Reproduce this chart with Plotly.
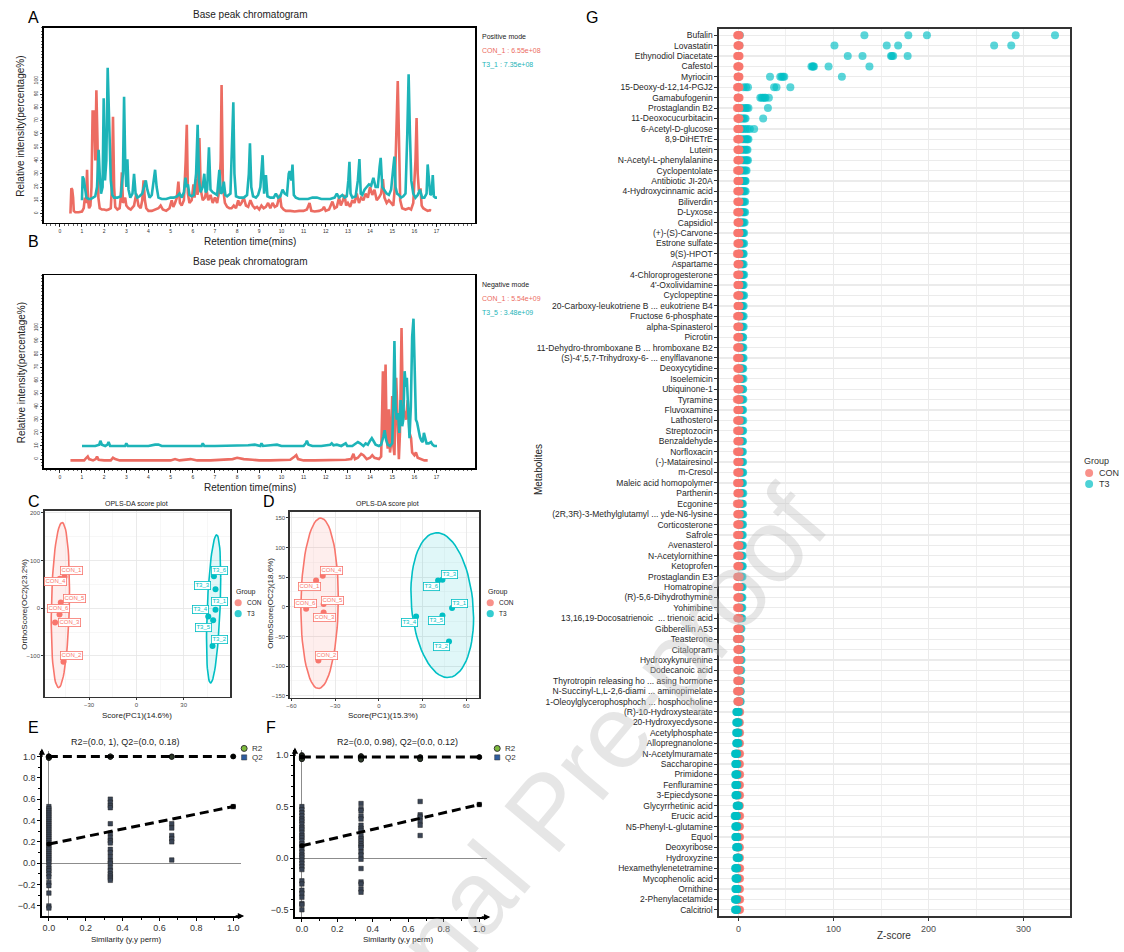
import numpy as np
import plotly.graph_objects as go

# ---------------------------------------------------------------- data
# A: base peak chromatogram, positive mode (time [min], relative intensity [%])
pos_con = [(0.48, 0), (0.52, 19), (0.56, 18), (0.6, 12), (0.63, 2), (0.7, 1), (0.85, 1), (1.0, 1.5), (1.08, 4),
           (1.13, 12), (1.18, 8), (1.23, 33), (1.27, 10), (1.32, 4), (1.38, 6), (1.43, 20), (1.48, 77), (1.55, 77),
           (1.6, 40), (1.65, 93), (1.7, 55), (1.74, 12), (1.8, 4), (1.9, 3), (2.0, 3), (2.1, 2.5), (2.2, 3), (2.3, 4),
           (2.35, 20), (2.4, 73), (2.45, 20), (2.5, 5), (2.6, 3), (2.7, 4), (2.75, 12), (2.8, 31), (2.85, 8),
           (2.95, 12), (3.0, 6), (3.1, 4), (3.2, 3), (3.35, 6), (3.45, 15), (3.55, 6), (3.65, 4), (3.72, 10),
           (3.78, 25), (3.84, 10), (3.9, 4), (4.0, 2), (4.15, 2), (4.3, 3), (4.45, 4), (4.55, 6), (4.65, 3), (4.8, 2),
           (4.95, 4), (5.05, 10), (5.12, 5), (5.2, 8), (5.28, 12), (5.35, 24), (5.42, 8), (5.5, 6), (5.6, 10),
           (5.68, 40), (5.73, 67), (5.78, 15), (5.85, 8), (5.95, 10), (6.03, 22), (6.08, 12), (6.15, 26), (6.22, 14),
           (6.3, 57), (6.36, 18), (6.45, 10), (6.55, 12), (6.62, 18), (6.7, 10), (6.8, 14), (6.9, 8), (7.0, 12),
           (7.1, 8), (7.2, 18), (7.26, 40), (7.3, 97), (7.36, 20), (7.45, 8), (7.55, 5), (7.65, 4), (7.75, 4),
           (7.85, 6), (7.95, 4), (8.05, 10), (8.12, 6), (8.2, 8), (8.3, 12), (8.4, 6), (8.5, 5), (8.6, 10), (8.7, 6),
           (8.8, 4), (8.9, 5), (9.0, 3), (9.1, 6), (9.2, 4), (9.3, 5), (9.4, 8), (9.5, 4), (9.6, 8), (9.7, 5),
           (9.8, 6), (9.93, 14), (10.0, 5), (10.1, 3), (10.2, 2), (10.4, 2), (10.6, 1.5), (10.8, 2), (11.0, 2),
           (11.15, 3), (11.27, 8), (11.35, 2), (11.5, 1.5), (11.7, 2), (11.85, 3), (11.92, 5), (12.0, 2), (12.15, 3),
           (12.3, 9), (12.4, 4), (12.5, 5), (12.6, 12), (12.68, 6), (12.78, 10), (12.85, 14), (12.92, 6), (13.0, 8),
           (13.1, 5), (13.2, 10), (13.3, 8), (13.4, 15), (13.5, 8), (13.6, 12), (13.7, 10), (13.8, 15), (13.9, 12),
           (14.0, 20), (14.1, 14), (14.2, 18), (14.3, 10), (14.4, 12), (14.5, 15), (14.58, 26), (14.65, 12),
           (14.75, 8), (14.85, 10), (14.95, 8), (15.05, 6), (15.12, 20), (15.2, 70), (15.25, 100), (15.3, 60),
           (15.36, 10), (15.45, 4), (15.6, 3), (15.75, 4), (15.85, 3), (15.95, 8), (16.05, 40), (16.1, 72),
           (16.15, 30), (16.2, 18), (16.28, 18), (16.33, 6), (16.4, 4), (16.5, 3), (16.6, 2), (16.7, 2.5), (16.75, 2)]
pos_t3 = [(1.0, 10), (1.03, 28), (1.08, 26), (1.13, 18), (1.2, 12), (1.3, 11), (1.4, 11), (1.5, 12), (1.6, 13),
          (1.68, 20), (1.75, 48), (1.8, 30), (1.86, 15), (1.93, 20), (1.98, 87), (2.04, 25), (2.1, 40), (2.16, 110),
          (2.22, 75), (2.25, 60), (2.3, 25), (2.37, 14), (2.45, 12), (2.6, 12), (2.75, 13), (2.85, 30), (2.9, 88),
          (2.95, 40), (3.0, 20), (3.05, 41), (3.1, 18), (3.18, 12), (3.28, 15), (3.35, 30), (3.42, 15), (3.5, 12),
          (3.6, 13), (3.72, 15), (3.8, 20), (3.88, 25), (3.95, 18), (4.05, 12), (4.15, 14), (4.25, 25), (4.3, 33),
          (4.37, 20), (4.45, 12), (4.6, 11), (4.8, 11), (5.0, 12), (5.15, 12), (5.3, 13), (5.4, 15), (5.5, 12),
          (5.6, 16), (5.67, 27), (5.72, 20), (5.78, 22), (5.85, 14), (5.95, 13), (6.05, 14), (6.15, 30), (6.22, 67),
          (6.28, 25), (6.35, 16), (6.45, 20), (6.52, 30), (6.58, 16), (6.65, 18), (6.73, 50), (6.8, 18), (6.9, 16),
          (7.0, 15), (7.1, 14), (7.2, 33), (7.26, 15), (7.33, 16), (7.4, 24), (7.47, 14), (7.55, 13), (7.7, 15),
          (7.78, 50), (7.83, 84), (7.88, 30), (7.95, 13), (8.1, 12), (8.3, 12), (8.45, 14), (8.53, 30), (8.58, 53),
          (8.64, 20), (8.72, 13), (8.85, 12), (8.95, 14), (9.05, 20), (9.15, 44), (9.22, 15), (9.3, 29), (9.37, 13),
          (9.5, 12), (9.65, 12), (9.75, 15), (9.85, 12), (9.95, 13), (10.05, 18), (10.15, 15), (10.25, 14),
          (10.33, 30), (10.37, 32), (10.45, 25), (10.5, 37), (10.56, 14), (10.65, 12), (10.8, 11), (11.0, 11),
          (11.2, 11), (11.4, 12), (11.6, 12), (11.8, 11), (12.0, 11), (12.2, 11), (12.4, 12), (12.5, 15), (12.6, 12),
          (12.75, 14), (12.85, 12), (12.95, 13), (13.02, 25), (13.07, 39), (13.12, 15), (13.2, 12), (13.35, 13),
          (13.45, 25), (13.52, 41), (13.58, 15), (13.65, 14), (13.75, 18), (13.85, 20), (13.95, 22), (14.05, 21),
          (14.15, 27), (14.25, 20), (14.35, 20), (14.43, 35), (14.48, 42), (14.55, 20), (14.65, 17), (14.75, 15),
          (14.85, 14), (14.95, 18), (15.05, 35), (15.1, 43), (15.15, 20), (15.22, 15), (15.3, 14), (15.4, 12),
          (15.5, 13), (15.6, 15), (15.68, 60), (15.74, 105), (15.8, 60), (15.86, 25), (15.95, 15), (16.05, 12),
          (16.15, 14), (16.25, 18), (16.35, 12), (16.45, 12), (16.55, 15), (16.6, 37), (16.66, 25), (16.72, 14),
          (16.78, 15), (16.83, 29), (16.88, 13), (16.95, 12), (17.02, 12)]
# B: base peak chromatogram, negative mode
neg_con = [(0.48, -1), (0.8, -1), (1.1, -1), (1.2, 1), (1.26, 2), (1.32, 0), (1.5, -1), (1.62, 0), (1.68, 2),
           (1.75, -0.5), (2.0, -1), (2.3, -1), (2.4, 1), (2.5, 0), (2.7, -1), (3.0, -1), (3.5, -1), (4.0, -1),
           (4.5, -1), (5.0, -1), (5.2, 0), (5.4, -1), (5.9, 0), (6.2, -1), (6.8, -1), (7.4, -0.5), (7.8, 0), (8.0, 1),
           (8.3, 0), (8.7, -0.5), (9.0, -1), (9.5, -1), (10.0, -1), (10.4, -0.5), (10.6, 2), (10.67, 3), (10.75, 0),
           (11.0, -1), (11.5, -1), (12.0, -1), (12.5, -0.5), (12.9, -0.5), (13.15, 0), (13.25, 4), (13.32, 0),
           (13.45, 1), (13.6, 4), (13.7, 3), (13.85, 0), (14.0, 1), (14.1, 3), (14.2, 1), (14.4, 0), (14.5, 2),
           (14.55, 40), (14.58, 67), (14.63, 20), (14.7, 72), (14.75, 15), (14.8, 8), (14.85, 38), (14.9, 5),
           (14.95, 12), (15.0, 48), (15.05, 10), (15.1, 3), (15.18, 62), (15.25, 30), (15.3, 0), (15.35, 20),
           (15.42, 100), (15.48, 40), (15.55, 35), (15.62, 30), (15.7, 45), (15.78, 20), (15.85, 16), (15.9, 5),
           (16.0, 3), (16.07, 5), (16.15, 1), (16.3, 0), (16.45, -1), (16.6, -1)]
neg_t3 = [(1.0, 10), (1.3, 10), (1.6, 10), (1.78, 11), (1.83, 14), (1.9, 11), (2.05, 10), (2.15, 11), (2.2, 13),
          (2.27, 10), (2.6, 10), (2.95, 10), (3.0, 12), (3.07, 10), (3.5, 10), (4.0, 10), (4.3, 11), (4.45, 11),
          (4.6, 10), (5.0, 10), (5.5, 10), (6.0, 10), (6.4, 10), (6.45, 12), (6.52, 10), (7.0, 10), (7.5, 10),
          (8.0, 10), (8.5, 10.5), (8.8, 11), (9.05, 10), (9.1, 12), (9.17, 10), (9.5, 10.5), (9.8, 11), (10.0, 10),
          (10.5, 10), (11.0, 10), (11.1, 12), (11.15, 14), (11.22, 11), (11.4, 10), (11.8, 10), (12.2, 11),
          (12.27, 12), (12.35, 10.5), (12.5, 11), (12.7, 10), (12.9, 12), (12.97, 10), (13.2, 10), (13.45, 13),
          (13.55, 12), (13.7, 10), (13.8, 12), (13.9, 11), (14.0, 14), (14.08, 16), (14.15, 14), (14.25, 11),
          (14.4, 10), (14.5, 11), (14.6, 17), (14.66, 22), (14.72, 15), (14.8, 11), (14.9, 10), (15.0, 12),
          (15.05, 40), (15.1, 90), (15.15, 40), (15.2, 30), (15.27, 35), (15.32, 20), (15.38, 45), (15.45, 25),
          (15.5, 30), (15.56, 67), (15.62, 55), (15.66, 62), (15.72, 38), (15.78, 16), (15.84, 40), (15.9, 93),
          (15.96, 107), (16.02, 60), (16.07, 30), (16.12, 28), (16.18, 22), (16.25, 17), (16.32, 14), (16.38, 13),
          (16.43, 20), (16.48, 16), (16.55, 12), (16.65, 12), (16.75, 13), (16.82, 11), (16.9, 10), (17.02, 10)]
pos_legend = ["Positive mode", "CON_1 : 6.55e+08", "T3_1 : 7.35e+08"]
neg_legend = ["Negative mode", "CON_1 : 5.54e+09", "T3_5 : 3.48e+09"]

# C / D: OPLS-DA scores (order: _1 .. _6)
con_names = ["CON_1", "CON_2", "CON_3", "CON_4", "CON_5", "CON_6"]
t3_names = ["T3_1", "T3_2", "T3_3", "T3_4", "T3_5", "T3_6"]
c_con_x = [-45.5, -46.2, -51.5, -48.5, -47.9, -48.7]
c_con_y = [66, -112, -30, 62, 12, -13]
c_t3_x = [50.2, 48.3, 50.2, 45.6, 48.7, 49.2]
c_t3_y = [-3, -79, 40, -17, -25, 67]
d_con_x = [-43.1, -41.5, -37.9, -38.5, -37.9, -49.9]
d_con_y = [44.4, -90.7, -9.6, 52.4, 4.6, -3.4]
d_t3_x = [50.3, 48.2, 43.7, 25.6, 43.7, 40.7]
d_t3_y = [-2.2, -58.6, 45.6, -16.4, -14.7, 44.4]

# E / F: permutation tests {similarity: values}
e_r2 = {0.0: [1.0, 0.995, 0.99, 1.0, 0.985, 1.0, 0.99, 0.995], 1/3: [1.0, 0.995, 1.0], 2/3: [1.0, 0.995], 1.0: [1.0]}
e_q2 = {0.0: [0.53, 0.51, 0.49, 0.47, 0.45, 0.43, 0.41, 0.39, 0.37, 0.35, 0.33, 0.31, 0.29, 0.27, 0.25, 0.23,
              0.21, 0.19, 0.17, 0.15, 0.13, 0.11, 0.09, 0.07, 0.05, 0.03, 0.01, -0.02, -0.05, -0.07, -0.1, -0.13,
              -0.18, -0.21, -0.28, -0.40, -0.42],
        1/3: [0.60, 0.57, 0.54, 0.52, 0.37, 0.28, 0.24, 0.21, 0.19, 0.13, 0.10, 0.06, 0.02, 0.00, -0.04, -0.07,
              -0.10, -0.12, -0.14, -0.16],
        2/3: [0.37, 0.33, 0.26, 0.23, 0.20, 0.03],
        1.0: [0.53]}
e_intercepts = {"R2": 1.0, "Q2": 0.18}
f_r2 = {0.0: [1.0, 0.99, 0.985, 0.98, 0.975, 0.97, 0.965, 0.99, 0.96], 1/3: [0.99, 0.985, 0.98, 0.97, 0.96, 0.955],
        2/3: [0.98, 0.975, 0.965, 0.96], 1.0: [0.98]}
f_q2 = {0.0: [0.50, 0.47, 0.44, 0.41, 0.38, 0.36, 0.33, 0.30, 0.28, 0.25, 0.22, 0.20, 0.17, 0.14, 0.12, 0.09,
              0.06, 0.03, 0.01, -0.02, -0.05, -0.08, -0.11, -0.22, -0.25, -0.31, -0.34, -0.38, -0.44, -0.45, -0.50],
        1/3: [0.53, 0.48, 0.46, 0.41, 0.38, 0.32, 0.29, 0.27, 0.22, 0.19, 0.17, 0.14, 0.12, 0.10, 0.06, 0.03,
              -0.01, -0.10, -0.23, -0.25, -0.30, -0.33],
        2/3: [0.55, 0.42, 0.40, 0.36, 0.32, 0.22],
        1.0: [0.52]}
f_intercepts = {"R2": 0.98, "Q2": 0.12}
e_title = "R2=(0.0, 1), Q2=(0.0, 0.18)"
f_title = "R2=(0.0, 0.98), Q2=(0.0, 0.12)"

# G: Z-scores of metabolites (6 CON, 6 T3 per metabolite)
metabolites = ["Bufalin", "Lovastatin", "Ethynodiol Diacetate", "Cafestol", "Myriocin", "15-Deoxy-d-12,14-PGJ2",
               "Gamabufogenin", "Prostaglandin B2", "11-Deoxocucurbitacin", "6-Acetyl-D-glucose", "8,9-DiHETrE",
               "Lutein", "N-Acetyl-L-phenylalanine", "Cyclopentolate", "Antibiotic JI-20A", "4-Hydroxycinnamic acid",
               "Biliverdin", "D-Lyxose", "Capsidiol", "(+)-(S)-Carvone", "Estrone sulfate", "9(S)-HPOT", "Aspartame",
               "4-Chloroprogesterone", "4'-Oxolividamine", "Cyclopeptine", "20-Carboxy-leukotriene B ... eukotriene B4",
               "Fructose 6-phosphate", "alpha-Spinasterol", "Picrotin", "11-Dehydro-thromboxane B ... hromboxane B2",
               "(S)-4',5,7-Trihydroxy-6- ... enylflavanone", "Deoxycytidine", "Isoelemicin", "Ubiquinone-1",
               "Tyramine", "Fluvoxamine", "Lathosterol", "Streptozocin", "Benzaldehyde", "Norfloxacin",
               "(-)-Matairesinol", "m-Cresol", "Maleic acid homopolymer", "Parthenin", "Ecgonine",
               "(2R,3R)-3-Methylglutamyl ... yde-N6-lysine", "Corticosterone", "Safrole", "Avenasterol",
               "N-Acetylornithine", "Ketoprofen", "Prostaglandin E3", "Homatropine", "(R)-5,6-Dihydrothymine",
               "Yohimbine", "13,16,19-Docosatrienoic  ... trienoic acid", "Gibberellin A53", "Teasterone",
               "Citalopram", "Hydroxykynurenine", "Dodecanoic acid", "Thyrotropin releasing ho ... asing hormone",
               "N-Succinyl-L,L-2,6-diami ... aminopimelate", "1-Oleoylglycerophosphoch ... hosphocholine",
               "(R)-10-Hydroxystearate", "20-Hydroxyecdysone", "Acetylphosphate", "Allopregnanolone",
               "N-Acetylmuramate", "Saccharopine", "Primidone", "Fenfluramine", "3-Epiecdysone",
               "Glycyrrhetinic acid", "Erucic acid", "N5-Phenyl-L-glutamine", "Equol", "Deoxyribose", "Hydroxyzine",
               "Hexamethylenetetramine", "Mycophenolic acid", "Ornithine", "2-Phenylacetamide", "Calcitriol"]
z_con = [
    [-1.3, -0.8, -0.2, 0.3, 0.8, 1.2], [-1.1, -0.7, -0.3, 0.2, 0.7, 1.2], [-1.4, -0.6, -0.1, 0.3, 0.6, 1.2],
    [-1.2, -0.9, -0.2, 0.4, 0.8, 1.1], [-1.0, -0.7, -0.3, 0.2, 0.7, 1.1], [-1.5, -0.6, 0.0, 0.3, 0.7, 1.1],
    [-0.9, -0.8, -0.2, 0.1, 0.6, 1.2], [-1.6, -0.5, -0.1, 0.4, 0.7, 1.1], [-1.2, -0.6, -0.3, 0.2, 0.8, 1.1],
    [-1.3, -0.7, 0.1, 0.3, 0.5, 1.1], [-1.4, -0.5, -0.2, 0.2, 0.7, 1.2], [-1.1, -0.8, -0.1, 0.3, 0.6, 1.1],
    [-1.2, -0.7, -0.2, 0.1, 0.8, 1.2], [-1.5, -0.4, -0.2, 0.4, 0.6, 1.1], [-1.0, -0.9, -0.1, 0.3, 0.7, 1.0],
    [-1.3, -0.6, -0.3, 0.2, 0.8, 1.2], [-1.2, -0.8, 0.0, 0.3, 0.6, 1.1], [-1.4, -0.7, -0.1, 0.2, 0.9, 1.1],
    [-1.1, -0.6, -0.3, 0.4, 0.5, 1.1], [-1.3, -0.9, -0.1, 0.3, 0.8, 1.2], [-1.2, -0.5, -0.2, 0.1, 0.7, 1.1],
    [-1.6, -0.6, 0.0, 0.3, 0.8, 1.1], [-1.0, -0.8, -0.2, 0.2, 0.6, 1.2], [-1.4, -0.7, -0.1, 0.3, 0.8, 1.1],
    [-1.2, -0.6, -0.3, 0.4, 0.6, 1.1], [-1.3, -0.8, 0.1, 0.2, 0.7, 1.1], [-1.1, -0.7, -0.2, 0.1, 0.8, 1.1],
    [-1.5, -0.5, -0.1, 0.3, 0.7, 1.1], [-1.2, -0.9, -0.2, 0.4, 0.8, 1.1], [-1.3, -0.6, 0.0, 0.2, 0.6, 1.1],
    [-1.4, -0.8, -0.2, 0.3, 0.7, 1.4], [-1.6, -0.7, -0.1, 0.2, 0.8, 1.4], [-1.3, -0.9, -0.3, 0.4, 0.7, 1.4],
    [-1.5, -0.6, -0.2, 0.3, 0.6, 1.4], [-1.2, -0.8, -0.1, 0.2, 0.5, 1.4], [-1.7, -0.5, -0.2, 0.4, 0.7, 1.3],
    [-1.3, -0.7, -0.3, 0.3, 0.8, 1.2], [-1.4, -0.9, 0.0, 0.2, 0.7, 1.4], [-1.5, -0.6, -0.2, 0.3, 0.6, 1.4],
    [-1.2, -0.8, -0.3, 0.4, 0.5, 1.4], [-1.6, -0.7, -0.1, 0.3, 0.8, 1.3], [-1.3, -0.8, -0.2, 0.2, 0.7, 1.4],
    [-1.4, -0.6, -0.3, 0.4, 0.6, 1.3], [-1.5, -0.9, 0.0, 0.3, 0.8, 1.3], [-1.2, -0.7, -0.2, 0.2, 0.5, 1.4],
    [-1.7, -0.6, -0.1, 0.4, 0.7, 1.3], [-1.3, -0.8, -0.3, 0.3, 0.6, 1.5], [-1.4, -0.7, -0.2, 0.2, 0.8, 1.3],
    [-1.6, -0.5, -0.1, 0.3, 0.6, 1.3], [-1.2, -0.9, -0.2, 0.4, 0.7, 1.2], [-1.5, -0.7, -0.3, 0.3, 0.8, 1.4],
    [-1.3, -0.6, 0.0, 0.2, 0.5, 1.2], [-1.4, -0.8, -0.2, 0.3, 0.7, 1.4], [-1.6, -0.7, -0.1, 0.4, 0.6, 1.4],
    [-1.2, -0.9, -0.3, 0.2, 0.8, 1.4], [-1.5, -0.6, -0.2, 0.3, 0.7, 1.3], [-1.3, -0.8, -0.1, 0.4, 0.5, 1.3],
    [-1.4, -0.7, -0.3, 0.2, 0.8, 1.4], [-1.7, -0.6, 0.0, 0.3, 0.6, 1.4], [-1.2, -0.8, -0.2, 0.4, 0.7, 1.1],
    [-1.5, -0.9, -0.1, 0.2, 0.8, 1.5], [-1.3, -0.6, -0.3, 0.3, 0.6, 1.3], [-1.4, -0.7, -0.2, 0.4, 0.5, 1.4],
    [-1.6, -0.8, 0.0, 0.2, 0.8, 1.4], [-1.2, -0.6, -0.2, 0.3, 0.7, 1.0], [-1.3, -0.7, -0.1, 0.4, 0.9, 1.8],
    [-1.5, -0.9, -0.2, 0.3, 0.8, 1.5], [-1.4, -0.6, -0.3, 0.4, 0.9, 1.7], [-1.3, -0.8, -0.1, 0.2, 0.8, 1.6],
    [-1.6, -0.7, -0.2, 0.3, 0.9, 1.7], [-1.4, -0.9, -0.1, 0.4, 0.8, 1.6], [-1.5, -0.6, -0.3, 0.3, 0.9, 1.8],
    [-1.3, -0.8, -0.2, 0.2, 0.9, 1.6], [-1.6, -0.7, -0.1, 0.3, 0.8, 1.7], [-1.4, -0.6, -0.2, 0.4, 0.9, 1.5],
    [-1.5, -0.9, -0.1, 0.3, 0.8, 1.8], [-1.3, -0.7, -0.3, 0.2, 0.9, 1.6], [-1.6, -0.8, -0.2, 0.4, 0.8, 1.7],
    [-1.4, -0.6, -0.1, 0.3, 0.9, 1.5], [-1.5, -0.7, -0.2, 0.2, 0.8, 1.6], [-1.3, -0.9, -0.3, 0.4, 0.9, 1.8],
    [-1.6, -0.6, -0.1, 0.3, 0.8, 1.7], [-1.4, -0.8, -0.2, 0.2, 0.9, 1.6], [-1.5, -0.7, -0.1, 0.4, 0.8, 1.8],
    [-1.3, -0.9, -0.2, 0.3, 0.9, 1.7]]
z_t3 = [
    [1.5, 132.5, 178.7, 198.3, 291.7, 333.0], [1.0, 101.0, 156.0, 168.0, 269.0, 287.0],
    [115.0, 130.5, 160.5, 161.5, 162.8, 178.0], [76.8, 78.0, 79.4, 94.8, 137.8, 78.6],
    [33.2, 44.0, 45.5, 47.0, 48.2, 108.8], [5.5, 8.0, 10.0, 37.5, 40.0, 54.6], [23.0, 24.5, 26.0, 27.5, 28.5, 32.0],
    [2.5, 5.5, 7.5, 9.0, 10.5, 31.0], [2.0, 3.5, 5.0, 6.5, 7.5, 26.0], [3.0, 5.0, 7.5, 9.5, 12.0, 16.5],
    [3.0, 5.0, 7.0, 8.5, 9.5, 10.5], [2.0, 3.5, 5.5, 7.0, 8.5, 9.5], [3.0, 5.0, 6.5, 8.0, 9.0, 10.0],
    [2.0, 3.0, 4.5, 6.0, 7.5, 8.5], [2.5, 3.5, 5.0, 6.0, 7.0, 7.5], [2.0, 3.0, 4.5, 5.5, 6.5, 7.5],
    [1.5, 3.0, 4.0, 5.0, 6.0, 7.0], [1.5, 2.5, 4.0, 5.0, 6.0, 7.0], [1.0, 2.5, 3.5, 4.5, 5.5, 6.5],
    [1.0, 2.5, 3.5, 4.5, 5.0, 6.0], [1.5, 2.5, 3.5, 4.0, 5.0, 6.0], [1.0, 2.0, 3.0, 4.0, 5.0, 5.5],
    [1.0, 2.0, 3.0, 4.0, 4.5, 5.5], [1.5, 2.5, 3.5, 4.5, 5.0, 6.0], [1.0, 2.0, 3.0, 4.0, 4.5, 5.5],
    [0.5, 2.0, 3.0, 4.0, 5.0, 6.0], [0.5, 2.0, 3.0, 3.5, 4.5, 5.5], [1.0, 2.0, 3.0, 3.5, 4.5, 5.5],
    [0.0, 1.5, 2.5, 3.5, 4.5, 5.5], [1.0, 2.0, 2.5, 3.5, 4.5, 5.0],
    [0.8, 1.9, 2.7, 3.6, 4.4, 5.2], [0.6, 1.7, 2.9, 3.4, 4.6, 5.4], [1.1, 2.0, 2.6, 3.8, 4.3, 5.1],
    [0.7, 1.5, 2.8, 3.5, 4.2, 5.3], [0.9, 1.8, 2.4, 3.3, 4.5, 5.0], [0.5, 1.6, 2.5, 3.7, 4.4, 5.2],
    [1.0, 1.9, 2.9, 3.6, 4.1, 4.9], [0.8, 1.4, 2.6, 3.2, 4.0, 5.1], [0.6, 1.7, 2.3, 3.5, 4.3, 5.0],
    [1.2, 2.1, 2.8, 3.4, 4.2, 4.8], [0.4, 1.3, 2.2, 3.1, 4.0, 4.7], [0.9, 1.6, 2.5, 3.3, 4.1, 4.9],
    [0.7, 1.8, 2.7, 3.5, 4.4, 5.0], [0.5, 1.5, 2.4, 3.2, 4.0, 4.8], [0.8, 1.7, 2.6, 3.4, 4.2, 5.1],
    [0.6, 1.4, 2.3, 3.1, 3.9, 4.7], [0.9, 1.9, 2.8, 3.6, 4.3, 5.0], [0.7, 1.6, 2.5, 3.3, 4.1, 4.8],
    [0.5, 1.3, 2.2, 3.0, 3.8, 4.6], [0.8, 1.5, 2.4, 3.2, 4.0, 4.7], [0.6, 1.4, 2.1, 2.9, 3.7, 4.5],
    [0.7, 1.5, 2.3, 3.1, 3.9, 4.6], [0.2, 1.0, 1.8, 2.7, 3.5, 4.3], [0.6, 1.3, 2.1, 2.9, 3.6, 4.4],
    [0.5, 1.2, 2.0, 2.8, 3.5, 4.2], [0.4, 1.1, 1.9, 2.6, 3.4, 4.1], [0.3, 1.0, 1.8, 2.5, 3.2, 4.0],
    [-0.4, 0.3, 1.0, 1.7, 2.4, 3.1], [-1.2, -0.5, 0.2, 0.9, 1.6, 2.3], [-0.3, 0.4, 1.1, 1.8, 2.5, 3.0],
    [-0.2, 0.5, 1.2, 1.9, 2.6, 3.2], [-0.5, 0.2, 0.9, 1.5, 2.2, 2.9], [-0.6, 0.1, 0.8, 1.4, 2.0, 2.7],
    [-0.7, 0.0, 0.6, 1.3, 1.9, 2.5], [-0.8, -0.1, 0.5, 1.1, 1.8, 2.4],
    [-2.3, -1.8, -1.3, -0.8, -0.3, 0.3], [-2.4, -1.9, -1.4, -0.9, -0.4, 0.2], [-2.5, -2.0, -1.5, -1.0, -0.5, 0.1],
    [-2.4, -2.0, -1.6, -1.1, -0.6, 0.0],
    [-3.6, -3.2, -2.7, -2.3, -1.8, -1.3], [-3.4, -3.0, -2.6, -2.2, -1.7, -1.2], [-3.3, -2.9, -2.5, -2.1, -1.6, -1.1],
    [-3.4, -2.9, -2.5, -2.0, -1.6, -1.2], [-3.2, -2.8, -2.4, -2.0, -1.5, -1.0], [-2.0, -1.5, -1.0, -0.4, 0.1, 0.6],
    [-4.0, -3.5, -3.0, -2.5, -2.0, -1.5], [-3.4, -3.0, -2.5, -2.1, -1.7, -1.2], [-3.3, -2.9, -2.4, -2.0, -1.5, -1.1],
    [-2.6, -2.1, -1.6, -1.1, -0.6, -0.1], [-2.0, -1.5, -1.0, -0.5, 0.0, 0.5], [-3.5, -3.1, -2.6, -2.2, -1.7, -1.3],
    [-3.2, -2.8, -2.3, -1.9, -1.4, -1.0], [-3.3, -2.8, -2.4, -1.9, -1.5, -1.0], [-3.8, -3.3, -2.8, -2.4, -1.9, -1.4],
    [-3.7, -3.2, -2.7, -2.3, -1.8, -1.4]]

# ---------------------------------------------------------------- style
W, H = 1124, 952
FONT = "Liberation Sans"
RED, TEAL = "#F8766D", "#00BFC4"
RED_L, TEAL_L = "#EC6C62", "#1DB4B8"


def px(x):
    return x / W


def py(y):
    return 1 - y / H


def xdom(a, b):
    return [px(a), px(b)]


def ydom(top, bottom):
    return [py(bottom), py(top)]


fig = go.Figure()
ann = []
shapes = []


def text(x, y, s, size, color="#000", xanchor="center", angle=0, **kw):
    ann.append(dict(x=px(x), y=py(y), xref="paper", yref="paper", text=s, showarrow=False, xanchor=xanchor,
                    yanchor="middle", textangle=angle, font=dict(family=FONT, size=size, color=color), **kw))


def dot(x, y, r, color, opacity=1.0, kind="circle", line=None):
    shapes.append(dict(type=kind, xref="paper", yref="paper", x0=px(x - r), x1=px(x + r), y0=py(y + r),
                       y1=py(y - r), fillcolor=color, opacity=opacity,
                       line=line if line else dict(width=0)))


# ---------------------------------------------------------------- A & B chromatograms
for pts, col, xa, ya in [(pos_con, RED_L, "x", "y"), (pos_t3, TEAL_L, "x", "y"),
                         (neg_con, RED_L, "x2", "y2"), (neg_t3, TEAL_L, "x2", "y2")]:
    fig.add_trace(go.Scatter(x=[p[0] for p in pts], y=[p[1] for p in pts], mode="lines",
                             line=dict(color=col, width=2.6), xaxis=xa, yaxis=ya, hoverinfo="skip"))


def chrom_axes(top, bottom):
    xa = dict(domain=xdom(40, 473), range=[-0.72, 18.75], tickvals=list(range(18)),
              tickfont=dict(family=FONT, size=5, color="#333"), ticks="outside", ticklen=3, tickwidth=0.8,
              tickcolor="#000", minor=dict(dtick=0.2, ticks="outside", ticklen=1.5, tickcolor="#000", tickwidth=0.6),
              showline=True, mirror=True, linecolor="#000", linewidth=1.6, showgrid=False, zeroline=False)
    ya = dict(domain=ydom(top, bottom), range=[-6.8, 140], tickvals=list(range(0, 101, 10)), tickangle=-90,
              tickfont=dict(family=FONT, size=5, color="#333"), ticks="outside", ticklen=2.5, tickwidth=0.8,
              tickcolor="#000", minor=dict(dtick=2.5, ticks="outside", ticklen=1.5, tickcolor="#000", tickwidth=0.6),
              showline=True, mirror=True, linecolor="#000", linewidth=1.6, showgrid=False, zeroline=False)
    return xa, ya


xa1, ya1 = chrom_axes(27, 222)
xa2, ya2 = chrom_axes(275, 468)

for (top, lg, ltop) in [(14, pos_legend, 36), (261, neg_legend, 285)]:
    text(247, top, "Base peak chromatogram", 10, "#222")
    text(247, top + 227, "Retention time(mins)", 10, "#222")
    text(17, top + 111, "Relative intensity(percentage%)", 10, "#222", angle=-90)
    text(478, ltop, lg[0], 7, "#222", xanchor="left")
    text(478, ltop + 14, lg[1], 7, RED_L, xanchor="left")
    text(478, ltop + 28, lg[2], 7, TEAL_L, xanchor="left")


# ---------------------------------------------------------------- C & D OPLS-DA


def trob_ellipse(xs, ys, level=0.95, nu=5, segments=72):
    pts = np.column_stack([xs, ys]).astype(float)
    n, p = pts.shape
    loc = pts.mean(axis=0)
    w = np.ones(n)
    X = pts - loc
    for _ in range(25):
        w0 = w.copy()
        X = pts - loc
        C = (w[:, None] * X).T @ X / w.sum()
        Q = np.einsum("ij,jk,ik->i", X, np.linalg.inv(C), X)
        w = (nu + p) / (nu + Q)
        loc = (w[:, None] * pts).sum(axis=0) / w.sum()
        if np.all(np.abs(w - w0) < 0.01):
            break
    cov = (w[:, None] * X).T @ X / n
    dfd = n - 1
    fq = (dfd / 2.0) * ((1 - level) ** (-2.0 / dfd) - 1)
    radius = np.sqrt(2 * fq)
    ang = np.linspace(0, 2 * np.pi, segments)
    circ = np.column_stack([np.cos(ang), np.sin(ang)])
    L = np.linalg.cholesky(cov)
    ell = loc + radius * circ @ L.T
    return ell[:, 0], ell[:, 1]


c_con_off = [(7, -6), (8, -6), (14, 0), (-4, 3), (14, -4), (-1, -6)]
c_t3_off = [(4, -8), (7, -6), (-13, -4), (-8, -7), (-10, 7), (6, -6)]
d_con_off = [(-7, 6), (8, -5), (1, 5), (9, -5), (9, -4), (-1, -5)]
d_t3_off = [(7, -5), (-8, 5), (7, -5), (-7, 6), (-6, 5), (-7, 6)]

for xa, ya, groups in [
    ("x3", "y3", [(c_con_x, c_con_y, con_names, c_con_off, RED, "rgba(248,118,109,0.12)"),
                  (c_t3_x, c_t3_y, t3_names, c_t3_off, TEAL, "rgba(0,191,196,0.12)")]),
    ("x4", "y4", [(d_con_x, d_con_y, con_names, d_con_off, RED, "rgba(248,118,109,0.12)"),
                  (d_t3_x, d_t3_y, t3_names, d_t3_off, TEAL, "rgba(0,191,196,0.12)")])]:
    for gx, gy, names, offs, col, fillc in groups:
        ex, ey = trob_ellipse(gx, gy)
        fig.add_trace(go.Scatter(x=ex, y=ey, mode="lines", fill="toself", fillcolor=fillc,
                                 line=dict(color=col, width=1.6), xaxis=xa, yaxis=ya, hoverinfo="skip"))
        fig.add_trace(go.Scatter(x=gx, y=gy, mode="markers", marker=dict(size=6, color=col),
                                 xaxis=xa, yaxis=ya, hoverinfo="skip"))
        for xv, yv, nm, (dx, dy) in zip(gx, gy, names, offs):
            ann.append(dict(x=xv, y=yv, xref=xa, yref=ya, text=nm, showarrow=False, xshift=dx, yshift=-dy,
                            font=dict(family=FONT, size=6, color=col), bgcolor="white", bordercolor=col,
                            borderwidth=0.8, borderpad=0.6))


def score_axes(xl, xr, top, bottom, xr_, yr_, xt, yt, xminor, yminor):
    common = dict(showline=True, mirror=True, linecolor="#333", linewidth=1.6, zeroline=False,
                  showgrid=True, gridcolor="#E6E6E6", gridwidth=0.8, ticks="outside", ticklen=2,
                  tickcolor="#333", tickfont=dict(family=FONT, size=6, color="#4D4D4D"))
    xa = dict(domain=xdom(xl, xr), range=xr_, tickvals=xt,
              minor=dict(dtick=xminor, showgrid=True, gridcolor="#F2F2F2", gridwidth=0.6), **common)
    ya = dict(domain=ydom(top, bottom), range=yr_, tickvals=yt,
              minor=dict(dtick=yminor, showgrid=True, gridcolor="#F2F2F2", gridwidth=0.6), **common)
    return xa, ya


xa3, ya3 = score_axes(41, 227, 511, 697, [-58, 59.5], [-185, 204], [-30, 0, 30], [-100, 0, 100, 200], 15, 50)
xa4, ya4 = score_axes(287, 477, 512, 698, [-61, 69], [-153, 160], [-60, -30, 0, 30, 60],
                      [-150, -100, -50, 0, 50, 100, 150], 15, 25)

for cx, yx, ttl_x, ytitle, xtitle, lgx in [(133, 21, 133, "OrthoScore(OC2)(23.2%)", "Score(PC1)(14.6%)", 233),
                                          (385, 268, 380, "OrthoScore(OC2)(18.6%)", "Score(PC1)(15.3%)", 486)]:
    text(cx, 504, "OPLS-DA score plot", 7, "#222")
    text(yx, 604, ytitle, 8, "#222", angle=-90)
    text(ttl_x, 716, xtitle, 8, "#222")
    text(lgx - 2, 592, "Group", 7, "#222", xanchor="left")
    dot(lgx + 2, 603, 3.6, RED, 0.8)
    dot(lgx + 2, 614, 3.6, TEAL, 0.8)
    text(lgx + 9, 603, "CON", 6.5, "#222", xanchor="left")
    text(lgx + 9, 614, "T3", 6.5, "#222", xanchor="left")

# ---------------------------------------------------------------- E & F permutation


def perm_panel(r2, q2, ints, xa, ya):
    xs, ys = [], []
    for k, v in q2.items():
        xs += [k] * len(v)
        ys += v
    fig.add_trace(go.Scatter(x=xs, y=ys, mode="markers", xaxis=xa, yaxis=ya, hoverinfo="skip",
                             marker=dict(symbol="square", size=4.5, color="#3A4556",
                                         line=dict(width=0.5, color="#222"))))
    xs, ys = [], []
    for k, v in r2.items():
        xs += [k] * len(v)
        ys += v
    fig.add_trace(go.Scatter(x=xs, y=ys, mode="markers", xaxis=xa, yaxis=ya, hoverinfo="skip",
                             marker=dict(symbol="circle", size=5, color="#2E3A2A",
                                         line=dict(width=0.8, color="#111"))))
    for key, d in [("R2", r2), ("Q2", q2)]:
        fig.add_trace(go.Scatter(x=[0.0, 1.0], y=[ints[key], d[1.0][0]], mode="lines+markers", xaxis=xa, yaxis=ya,
                                 line=dict(color="#000", width=3, dash="9px,5px"),
                                 marker=dict(size=5, color="#000"), hoverinfo="skip"))


perm_panel(e_r2, e_q2, e_intercepts, "x5", "y5")
perm_panel(f_r2, f_q2, f_intercepts, "x6", "y6")


def perm_axes(xl, xr, top, bottom, xr_, yr_, yt, yminor):
    common = dict(showline=True, mirror=False, linecolor="#000", linewidth=1.6, showgrid=False,
                  zeroline=True, zerolinecolor="#8C8C8C", zerolinewidth=1, ticks="outside", ticklen=3,
                  tickcolor="#000", tickfont=dict(family=FONT, size=9, color="#333"))
    xa = dict(domain=xdom(xl, xr), range=xr_, tickvals=[0, 0.2, 0.4, 0.6, 0.8, 1.0], tickformat=".1f",
              minor=dict(dtick=0.1, ticks="outside", ticklen=2, tickcolor="#000"), **common)
    ya = dict(domain=ydom(top, bottom), range=yr_, tickvals=yt, tickformat=".1f",
              minor=dict(dtick=yminor, ticks="outside", ticklen=2, tickcolor="#000"), **common)
    return xa, ya


xa5, ya5 = perm_axes(38, 238, 752, 917, [-0.038, 1.043], [-0.495, 1.047], [-0.4, -0.2, 0, 0.2, 0.4, 0.6, 0.8, 1.0], 0.1)
xa6, ya6 = perm_axes(292, 485, 751, 918, [-0.039, 1.045], [-0.571, 1.045], [-0.5, 0, 0.5, 1.0], 0.1)

for (xl, xr, top, bottom, ttl, tx, lx) in [(38, 238, 752, 917, e_title, 122, 241),
                                          (292, 485, 751, 918, f_title, 395, 495)]:
    ann.append(dict(x=px(xl), y=py(top - 3), xref="paper", yref="paper", ax=0, ay=10, showarrow=True,
                    arrowhead=2, arrowsize=0.9, arrowwidth=1.4, arrowcolor="#000", text=""))
    ann.append(dict(x=px(xr + 3), y=py(bottom), xref="paper", yref="paper", ax=-10, ay=0, showarrow=True,
                    arrowhead=2, arrowsize=0.9, arrowwidth=1.4, arrowcolor="#000", text=""))
    text(tx, 743, ttl, 9, "#222")
    text(tx, 940, "Similarity (y,y perm)", 8, "#222")
    dot(lx, 749, 3, "#7DBA3C", line=dict(width=1, color="#333"))
    dot(lx, 758, 2.6, "#2E5C9E", kind="rect", line=dict(width=0.5, color="#333"))
    text(lx + 6, 749, "R2", 8, "#333", xanchor="left")
    text(lx + 6, 758, "Q2", 8, "#333", xanchor="left")

# ---------------------------------------------------------------- G Z-score dot plot
ys_idx = list(range(len(metabolites)))
up = [np.mean(t) >= np.mean(c) for c, t in zip(z_con, z_t3)]


def collect(rows, mask):
    xs, ys = [], []
    for i, (row, m) in enumerate(zip(rows, mask)):
        if m:
            xs += row
            ys += [i] * len(row)
    return xs, ys


gx, gy = collect(z_t3, up)
fig.add_trace(go.Scatter(x=gx, y=gy, mode="markers", xaxis="x7", yaxis="y7", hoverinfo="skip",
                         marker=dict(size=8, color=TEAL, opacity=0.65, line=dict(width=0))))
gx, gy = collect(z_con, [True] * len(z_con))
fig.add_trace(go.Scatter(x=gx, y=gy, mode="markers", xaxis="x7", yaxis="y7", hoverinfo="skip",
                         marker=dict(size=8, color=RED, opacity=0.8, line=dict(width=0))))
gx, gy = collect(z_t3, [not u for u in up])
fig.add_trace(go.Scatter(x=gx, y=gy, mode="markers", xaxis="x7", yaxis="y7", hoverinfo="skip",
                         marker=dict(size=8, color=TEAL, opacity=0.75, line=dict(width=0))))

xa7 = dict(domain=xdom(718, 1070), range=[-20, 349], tickvals=[0, 100, 200, 300],
           tickfont=dict(family=FONT, size=9, color="#4D4D4D"), ticks="outside", ticklen=3, tickcolor="#333",
           showgrid=True, gridcolor="#EBEBEB", gridwidth=1.2, zeroline=False,
           minor=dict(dtick=50, showgrid=True, gridcolor="#F0F0F0", gridwidth=1),
           showline=True, mirror=True, linecolor="#333", linewidth=2)
ya7 = dict(domain=ydom(28, 917), range=[len(metabolites) - 0.4, -0.6], tickvals=ys_idx, ticktext=metabolites,
           tickfont=dict(family=FONT, size=8.5, color="#262626"), ticks="outside", ticklen=3, tickcolor="#333",
           showgrid=True, gridcolor="#EBEBEB", gridwidth=1.2, zeroline=False,
           showline=True, mirror=True, linecolor="#333", linewidth=2)

text(893, 936, "Z-score", 10, "#333")
text(536, 470, "Metabolites", 10, "#222", angle=-90)
text(1082, 461, "Group", 9, "#333", xanchor="left")
dot(1089, 473, 4, RED, 0.8)
dot(1089, 484, 4, TEAL, 0.7)
text(1097, 473, "CON", 9, "#333", xanchor="left")
text(1097, 484, "T3", 9, "#333", xanchor="left")

# ---------------------------------------------------------------- panel letters & watermark
for lt, x, y in [("A", 30, 17), ("B", 30, 241), ("C", 30, 502), ("D", 266, 502), ("E", 30, 728),
                 ("F", 268, 728), ("G", 590, 17)]:
    text(x, y, lt, 16, "#000")

text(545, 812, "Journal Pre-proof", 104, "rgba(190,190,190,0.38)", angle=-50)

fig.update_layout(
    width=W, height=H, margin=dict(l=0, r=0, t=0, b=0), paper_bgcolor="white", plot_bgcolor="white",
    showlegend=False, annotations=ann, shapes=shapes,
    xaxis=dict(anchor="y", **xa1), yaxis=dict(anchor="x", **ya1),
    xaxis2=dict(anchor="y2", **xa2), yaxis2=dict(anchor="x2", **ya2),
    xaxis3=dict(anchor="y3", **xa3), yaxis3=dict(anchor="x3", **ya3),
    xaxis4=dict(anchor="y4", **xa4), yaxis4=dict(anchor="x4", **ya4),
    xaxis5=dict(anchor="y5", **xa5), yaxis5=dict(anchor="x5", **ya5),
    xaxis6=dict(anchor="y6", **xa6), yaxis6=dict(anchor="x6", **ya6),
    xaxis7=dict(anchor="y7", **xa7), yaxis7=dict(anchor="x7", **ya7),
)

fig.write_html("out.html", config={"displayModeBar": False, "staticPlot": True},
               post_script="document.body.style.margin='0px';")
